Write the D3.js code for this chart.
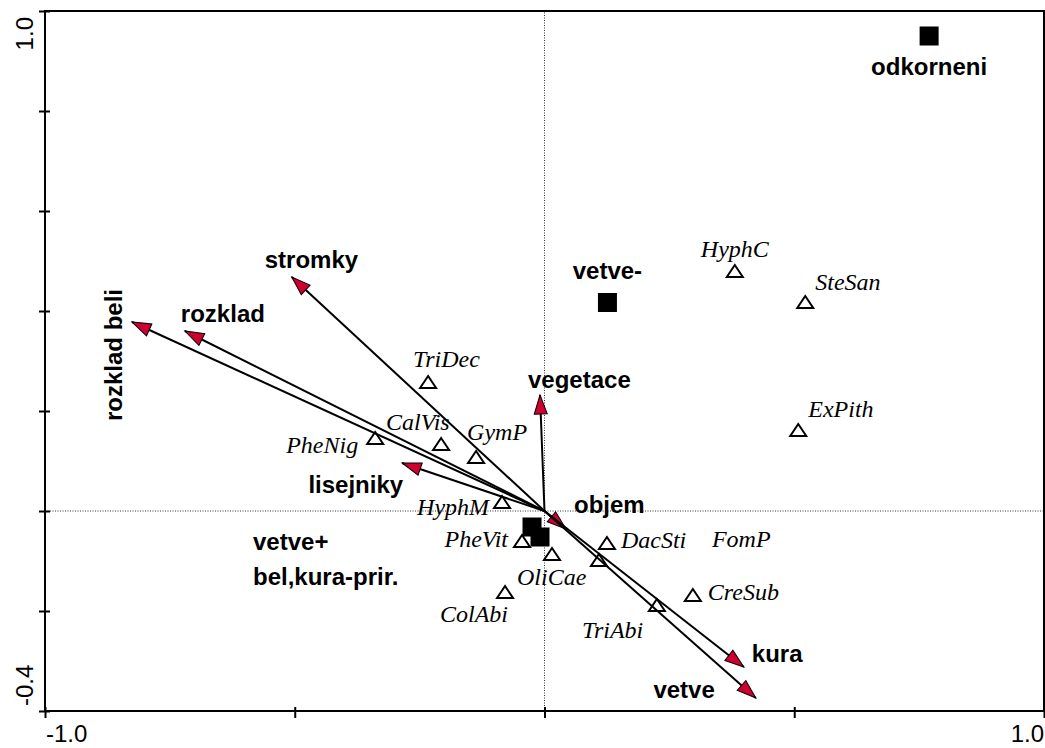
<!DOCTYPE html>
<html>
<head>
<meta charset="utf-8">
<script src="https://cdn.jsdelivr.net/npm/d3@7"></script>
<style>
body{margin:0;background:#fff;}
.env{font-family:"Liberation Sans",Arial,sans-serif;font-weight:bold;font-size:24px;fill:#000;}
.spp{font-family:"Liberation Serif","Times New Roman",serif;font-style:italic;font-size:24px;fill:#000;}
.tick{font-family:"Liberation Sans",Arial,sans-serif;font-size:24px;fill:#000;}
</style>
</head>
<body>
<svg width="1045" height="748"></svg>
<script>
// environmental variables (arrows)
const envNames=["rozklad beli","rozklad","stromky","lisejniky","vegetace","objem","kura","vetve"];
const envX=[-0.826,-0.720,-0.506,-0.285,-0.009,0.043,0.399,0.423];
const envY=[0.378,0.360,0.468,0.096,0.232,-0.036,-0.312,-0.374];

// nominal variables (centroids)
const centNames=["odkorneni","vetve-","vetve+","bel,kura-prir."];
const centX=[0.770,0.126,-0.025,-0.009];
const centY=[0.950,0.417,-0.032,-0.052];

// species
const sppNames=["HyphC","SteSan","ExPith","TriDec","CalVis","PheNig","GymP","HyphM","PheVit","OliCae","ColAbi","DacSti","FomP","CreSub","TriAbi"];
const sppX=[0.381,0.522,0.508,-0.233,-0.207,-0.339,-0.137,-0.085,-0.045,0.015,-0.079,0.125,0.109,0.297,0.225];
const sppY=[0.478,0.416,0.160,0.256,0.132,0.144,0.106,0.016,-0.062,-0.088,-0.164,-0.066,-0.100,-0.170,-0.190];

const xTicks=[-1.0,-0.5,0,0.5,1.0];
const yTicks=[-0.4,-0.2,0,0.2,0.4,0.6,0.8,1.0];

// label placement (dx,dy from mark, anchor)
const envLab={"rozklad beli":[-10,33,"middle",true],"rozklad":[-4,-9,"start"],"stromky":[-27,-9,"start"],
 "lisejniky":[1,30,"end"],"vegetace":[-12,-7,"start"],"objem":[8,-16,"start"],"kura":[8,-5,"start"],"vetve":[-41,0,"end"]};
const centLab={"odkorneni":[0,39,"middle"],"vetve-":[0,-24,"middle"],"vetve+":[-279,23,"start"],"bel,kura-prir.":[-287,48,"start"]};
const sppLab={"HyphC":[0,-15,"middle"],"SteSan":[10,-13,"start"],"ExPith":[10,-14,"start"],"TriDec":[-15,-16,"start"],
 "CalVis":[-55,-15,"start"],"PheNig":[-17,14,"end"],"GymP":[-9,-18,"start"],"HyphM":[-13,12,"end"],"PheVit":[-14,5,"end"],
 "OliCae":[-35,30,"start"],"ColAbi":[-65,29,"start"],"DacSti":[14,4,"start"],"FomP":[113,-14,"start"],"CreSub":[15,4,"start"],"TriAbi":[-75,32,"start"]};

const svg=d3.select("svg");
const x=d3.scaleLinear().domain([-1,1]).range([45,1044]);
const y=d3.scaleLinear().domain([-0.4,1.0]).range([711,11]);

// zero lines
svg.append("line").attr("x1",x(-1)).attr("x2",x(1)).attr("y1",y(0)).attr("y2",y(0))
 .attr("stroke","#333").attr("stroke-width",1).attr("stroke-dasharray","1,1.5");
svg.append("line").attr("x1",x(0)).attr("x2",x(0)).attr("y1",y(-0.4)).attr("y2",y(1))
 .attr("stroke","#333").attr("stroke-width",1).attr("stroke-dasharray","1,1.5");

// frame
svg.append("rect").attr("x",x(-1)).attr("y",y(1)).attr("width",x(1)-x(-1)).attr("height",y(-0.4)-y(1))
 .attr("fill","none").attr("stroke","#000").attr("stroke-width",2);

// axes
const xAxis=d3.axisBottom(x).tickValues(xTicks).tickSize(7).tickFormat("");
const gx=svg.append("g").attr("transform","translate(0,"+y(-0.4)+")").call(xAxis);
const yAxis=d3.axisLeft(y).tickValues(yTicks).tickSize(6).tickFormat("");
const gy=svg.append("g").attr("transform","translate("+x(-1)+",0)").call(yAxis);
[gx,gy].forEach(g=>{g.select(".domain").remove();g.selectAll("line").attr("stroke","#000").attr("stroke-width",2);});
gy.selectAll(".tick line").attr("x2",-6).attr("x1",5);
gx.selectAll(".tick line").attr("y1",-4);

svg.append("text").attr("class","tick").attr("x",x(-1)+1).attr("y",742).text("-1.0");
svg.append("text").attr("class","tick").attr("x",x(1)).attr("y",742).attr("text-anchor","end").text("1.0");
svg.append("text").attr("class","tick").attr("transform","translate(33,"+(y(1)+6)+") rotate(-90)").attr("text-anchor","end").text("1.0");
svg.append("text").attr("class","tick").attr("transform","translate(33,"+(y(-0.4)-5)+") rotate(-90)").attr("text-anchor","start").text("-0.4");

// species triangles
const tri="M0,-7L8,5L-8,5Z";
sppNames.forEach((n,i)=>{
 svg.append("path").attr("d",tri).attr("transform","translate("+x(sppX[i])+","+y(sppY[i])+")")
  .attr("fill","#fff").attr("stroke","#000").attr("stroke-width",2);
});

// centroids
const sq=19;
centNames.forEach((n,i)=>{
 svg.append("rect").attr("x",x(centX[i])-sq/2).attr("y",y(centY[i])-sq/2).attr("width",sq).attr("height",sq).attr("fill","#000");
});

// arrows
envNames.forEach((n,i)=>{
 const x1=x(envX[i]),y1=y(envY[i]),x0=x(0),y0=y(0);
 svg.append("line").attr("x1",x0).attr("y1",y0).attr("x2",x1).attr("y2",y1).attr("stroke","#000").attr("stroke-width",2);
 const a=Math.atan2(y1-y0,x1-x0)*180/Math.PI;
 svg.append("path").attr("d","M0,0L-19,-6.5L-19,6.5Z").attr("transform","translate("+x1+","+y1+") rotate("+a+")")
  .attr("fill","#d0002e").attr("stroke","#000").attr("stroke-width",1);
});

// labels
envNames.forEach((n,i)=>{
 const l=envLab[n];
 const t=svg.append("text").attr("class","env").attr("text-anchor",l[2]).text(n);
 if(l[3]) t.attr("transform","translate("+(x(envX[i])+l[0])+","+(y(envY[i])+l[1])+") rotate(-90)");
 else t.attr("x",x(envX[i])+l[0]).attr("y",y(envY[i])+l[1]);
});
centNames.forEach((n,i)=>{
 const l=centLab[n];
 svg.append("text").attr("class","env").attr("text-anchor",l[2]).attr("x",x(centX[i])+l[0]).attr("y",y(centY[i])+l[1]).text(n);
});
sppNames.forEach((n,i)=>{
 const l=sppLab[n];
 svg.append("text").attr("class","spp").attr("text-anchor",l[2]).attr("x",x(sppX[i])+l[0]).attr("y",y(sppY[i])+l[1]).text(n);
});
</script>
</body>
</html>
